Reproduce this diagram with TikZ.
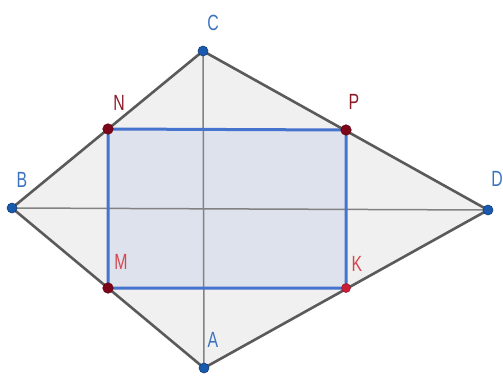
\documentclass[tikz,border=0pt]{standalone}
\usepackage{fontspec}
\setmainfont{Liberation Sans}
\usepackage{graphicx}
\definecolor{edgegray}{RGB}{90,90,90}
\definecolor{diaggray}{RGB}{130,130,130}
\definecolor{quadfill}{RGB}{240,240,240}
\definecolor{rectfill}{RGB}{222,226,236}
\definecolor{rectblue}{RGB}{70,115,205}
\definecolor{ptblue}{RGB}{25,90,175}
\definecolor{ptdark}{RGB}{125,5,25}
\definecolor{ptred}{RGB}{200,30,55}
\definecolor{lblblue}{RGB}{60,115,190}
\definecolor{lbldark}{RGB}{140,25,40}
\definecolor{lblred}{RGB}{215,70,80}
\tikzset{
  dotblue/.style={circle,fill=ptblue,draw=ptblue!70!black,line width=0.6pt,inner sep=0pt,minimum size=10pt},
  dotdark/.style={circle,fill=ptdark,draw=ptdark!80!black,line width=0.6pt,inner sep=0pt,minimum size=10.5pt},
  dotred/.style={circle,fill=ptred,draw=ptred!80!black,line width=0.6pt,inner sep=0pt,minimum size=9pt},
  lbl/.style={inner sep=0pt,font=\fontsize{22}{22}\selectfont},
  edge/.style={draw=edgegray,line width=2.6pt},
  diag/.style={draw=diaggray,line width=1.5pt},
  rectedge/.style={draw=rectblue,line width=3pt}
}
\newcommand{\narrow}[1]{\scalebox{0.72}[1]{#1}}
\begin{document}
\begin{tikzpicture}[x=1pt,y=-1pt]
\useasboundingbox (0,0) rectangle (503,378);
\coordinate (A) at (204,368);
\coordinate (B) at (12,208);
\coordinate (C) at (203,51);
\coordinate (D) at (488,210);
\coordinate (N) at (108,129);
\coordinate (P) at (346,130);
\coordinate (M) at (108,288);
\coordinate (K) at (346,288);
\fill[quadfill] (A) -- (B) -- (C) -- (D) -- cycle;
\fill[rectfill] (M) -- (N) -- (P) -- (K) -- cycle;
\draw[diag] (A) -- (C);
\draw[diag] (B) -- (D);
\draw[rectedge] (M) -- (N) -- (P) -- (K) -- cycle;
\draw[edge,line join=round] (A) -- (B) -- (C) -- (D) -- cycle;
\node[dotblue] (pA) at (A) {};
\node[dotblue] (pB) at (B) {};
\node[dotblue] (pC) at (C) {};
\node[dotblue] (pD) at (D) {};
\node[dotdark] (pN) at (N) {};
\node[dotdark] (pP) at (P) {};
\node[dotdark] (pM) at (M) {};
\node[dotred] (pK) at (K) {};
\node[lbl,text=lblblue] (lC) at (213,23) {\narrow{C}};
\node[lbl,text=lblblue] (lB) at (22,180) {\narrow{B}};
\node[lbl,text=lblblue] (lD) at (497,179) {\narrow{D}};
\node[lbl,text=lblblue] (lA) at (213,340) {\narrow{A}};
\node[lbl,text=lbldark] (lN) at (119,103) {\narrow{N}};
\node[lbl,text=lbldark] (lP) at (354,102) {\narrow{P}};
\node[lbl,text=lblred] (lM) at (121,262) {\narrow{M}};
\node[lbl,text=lblred] (lK) at (357,264) {\narrow{K}};
\end{tikzpicture}
\end{document}
